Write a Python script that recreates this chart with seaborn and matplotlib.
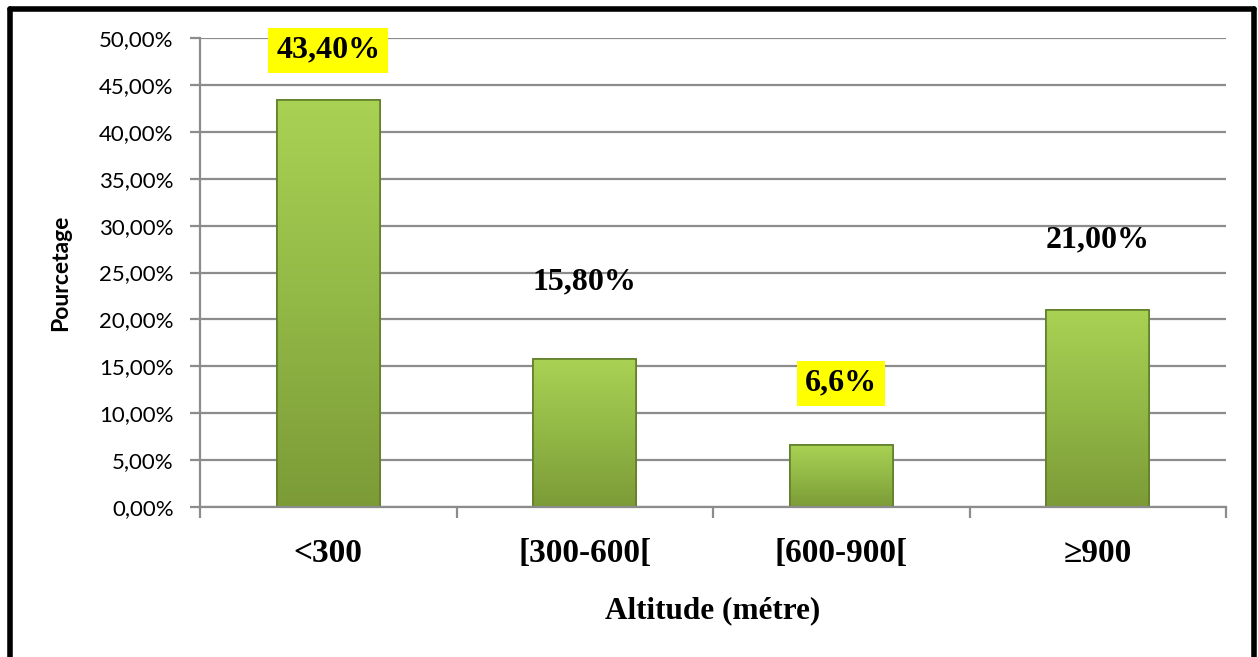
import numpy as np
import matplotlib
matplotlib.use("Agg")
import matplotlib.pyplot as plt
import seaborn as sns
from matplotlib.lines import Line2D
from matplotlib.ticker import FuncFormatter, MultipleLocator
from matplotlib.colors import LinearSegmentedColormap

categories = ["<300", "[300-600[", "[600-900[", "≥900"]
values = [43.40, 15.80, 6.60, 21.00]
value_labels = ["43,40%", "15,80%", "6,6%", "21,00%"]
highlight = [True, False, True, False]
label_y = [48.7, 24.0, 13.2, 28.5]  # label placement (layout)

sns.set_theme(style="white")
plt.rcParams['font.family'] = ['DejaVu Sans']
plt.rcParams['text.color'] = 'black'
plt.rcParams['axes.labelcolor'] = 'black'
plt.rcParams['xtick.labelcolor'] = 'black'
plt.rcParams['ytick.labelcolor'] = 'black'

fig = plt.figure(figsize=(12.58, 6.57), dpi=100)
ax = fig.add_axes([200/1258, 1-507/657, 1026/1258, 469/657])

sns.barplot(x=categories, y=values, color="#93b845", width=0.4, ax=ax,
            edgecolor="#5d7a26", linewidth=1.2, saturation=1)

cmap = LinearSegmentedColormap.from_list("g", ["#7c9b37", "#92b846", "#a9d254"])
grad = np.linspace(0, 1, 256).reshape(-1, 1)
for p in ax.patches:
    x0, y0 = p.get_x(), p.get_y()
    w, h = p.get_width(), p.get_height()
    im = ax.imshow(grad, extent=[x0, x0 + w, y0, y0 + h], origin="lower",
                   cmap=cmap, aspect="auto", zorder=p.get_zorder() + 0.1)
    im.set_clip_path(p)
    ax.add_patch(plt.Rectangle((x0, y0), w, h, fill=False, ec="#61802a",
                               lw=1.2, zorder=p.get_zorder() + 0.2))

ax.set_xlim(-0.5, len(categories) - 0.5)
ax.set_ylim(0, 50)
ax.yaxis.set_major_locator(MultipleLocator(5))
ax.yaxis.set_major_formatter(FuncFormatter(lambda v, _: f"{v:.2f}%".replace(".", ",")))
ax.grid(axis="y", color="#8c8c8c", lw=1.6, zorder=0)
ax.set_axisbelow(True)
for s in ["top", "right"]:
    ax.spines[s].set_visible(False)
for s in ["left", "bottom"]:
    ax.spines[s].set_color("#8c8c8c")
    ax.spines[s].set_linewidth(1.6)

ax.tick_params(axis="y", which="major", left=True, length=7, width=1.6,
               color="#8c8c8c", labelsize=16, pad=12, labelcolor="black")
for t in ax.get_yticklabels():
    t.set_fontfamily("Lato")

# x ticks at category boundaries
ax.set_xticks(np.arange(-0.5, len(categories), 1.0), minor=False)
ax.set_xticklabels([""] * (len(categories) + 1))
ax.tick_params(axis="x", which="major", bottom=True, length=8, width=1.6,
               color="#8c8c8c", direction="out")
ax.set_xticks(np.arange(len(categories)), minor=True)
ax.set_xticklabels(categories, minor=True, fontsize=24, fontweight="bold",
                   fontfamily="Liberation Serif", color="black")
ax.tick_params(axis="x", which="minor", length=0, pad=22)

ax.set_xlabel("Altitude (métre)", fontsize=22.5, fontweight="bold",
              fontfamily="Liberation Serif", color="black")
ax.xaxis.set_label_coords(0.5, -(611 - 507) / 469, transform=ax.transAxes)
ax.xaxis.label.set_va("center")
ax.set_ylabel("Pourcetage", fontsize=16.5, fontweight="bold", fontfamily="Lato",
              color="black")
ax.yaxis.set_label_coords(-(200 - 61) / 1026, 0.5)
ax.yaxis.label.set_va("center")

for i, (lab, yy, hl) in enumerate(zip(value_labels, label_y, highlight)):
    kw = {}
    if hl:
        kw["bbox"] = dict(boxstyle="square,pad=0.25", fc="#ffff00", ec="none")
    ax.text(i, yy, lab, ha="center", va="center", fontsize=23, fontweight="bold",
            fontfamily="Liberation Serif", color="black", zorder=5, **kw)

# outer frame
lw = 4
fig.add_artist(Line2D([10/1258, 10/1258], [0, 1-9/657], color="black", lw=lw,
                      transform=fig.transFigure))
fig.add_artist(Line2D([10/1258, 1254/1258], [1-9/657, 1-9/657], color="black", lw=lw,
                      transform=fig.transFigure))
fig.add_artist(Line2D([1254/1258, 1254/1258], [0, 1-9/657], color="black", lw=lw,
                      transform=fig.transFigure))

fig.savefig("out.png", dpi=100, facecolor="white")
